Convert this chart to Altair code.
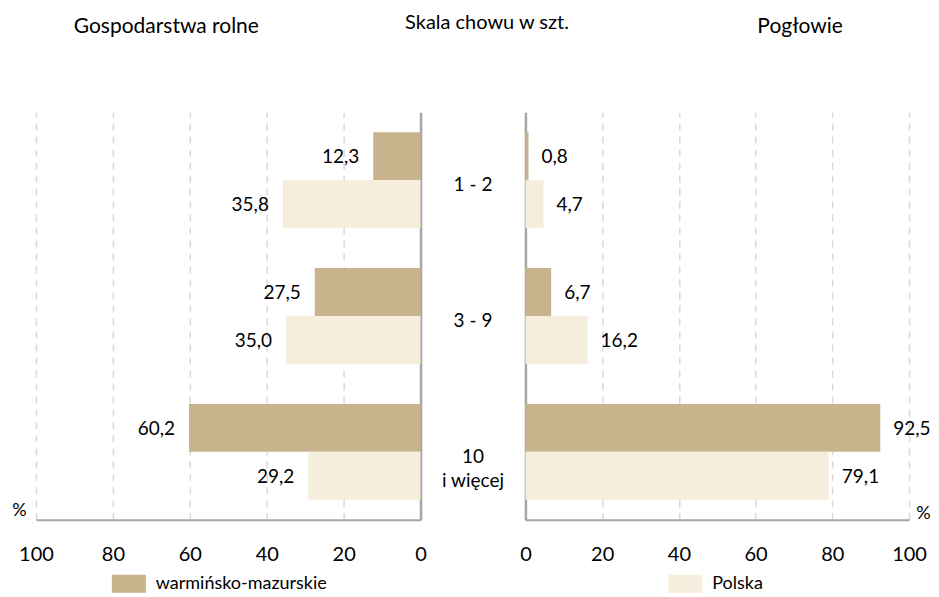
import altair as alt
import pandas as pd

categories = ["1 - 2", "3 - 9", "10\ni więcej"]
series = ["warmińsko-mazurskie", "Polska"]
farms_wm = [12.3, 27.5, 60.2]
farms_pl = [35.8, 35.0, 29.2]
herd_wm = [0.8, 6.7, 92.5]
herd_pl = [4.7, 16.2, 79.1]
tick_values = [0, 20, 40, 60, 80, 100]
colors = ["#C8B38D", "#F5EEDC"]

FONT = "Lato"
FS = 20
LFS = 19
GRAY = "#A6A6A6"


def frame(wm, pl):
    rows = []
    for c, a, b in zip(categories, wm, pl):
        rows.append({"cat": c, "series": series[0], "value": a})
        rows.append({"cat": c, "series": series[1], "value": b})
    df = pd.DataFrame(rows)
    df["label"] = df["value"].map(lambda v: f"{v:.1f}".replace(".", ","))
    return df


y_scale = alt.Scale(domain=categories, paddingInner=0.294, paddingOuter=0.147)
off_enc = alt.YOffset("series:N", sort=series,
                      scale=alt.Scale(domain=series, paddingInner=0, paddingOuter=0))


def panel(df, reverse, y_orient, legend_value, legend_x, title_text, title_dx, pct_x, pct_y, width):
    x_axis = alt.Axis(values=tick_values, grid=True, gridDash=[7, 6], gridColor="#D9D9D9",
                      gridWidth=1.5, ticks=False, tickSize=0, labelPadding=25,
                      labelFlush=False, labelOverlap=False,
                      labelFont=FONT, labelFontSize=FS, labelColor="black",
                      domainColor=GRAY, domainWidth=2,
                      title="%", titleX=pct_x, titleY=pct_y, titleAlign="center",
                      titleBaseline="middle", titleFont=FONT, titleFontSize=18,
                      titleFontWeight="normal", titleColor="black")
    x = alt.X("value:Q", scale=alt.Scale(domain=[0, 100], reverse=reverse, nice=False), axis=x_axis)
    y = alt.Y("cat:N", sort=categories, scale=y_scale,
              axis=alt.Axis(orient=y_orient, labels=False, ticks=False, title=None,
                            domainColor=GRAY, domainWidth=2.5, grid=False))
    color = alt.Color("series:N", scale=alt.Scale(domain=series, range=colors),
                      legend=alt.Legend(values=[legend_value], orient="none",
                                        legendX=legend_x, legendY=455, title=None,
                                        symbolType="M-1,-0.53H1V0.53H-1Z", symbolSize=1156,
                                        symbolStrokeWidth=0, labelFont=FONT, labelFontSize=18,
                                        labelLimit=400, labelOffset=10, labelColor="black"))
    base = alt.Chart(df)
    bars = base.mark_bar().encode(x=x, y=y, yOffset=off_enc, color=color)
    labels = base.mark_text(align="right" if reverse else "left", dx=-14 if reverse else 13,
                            baseline="middle", dy=1, font=FONT, fontSize=LFS, color="black").encode(
        x=x, y=y, yOffset=off_enc, text="label:N")
    return (bars + labels).properties(
        width=width, height=408,
        title=alt.TitleParams(title_text, anchor="middle", dx=title_dx, offset=54,
                              baseline="bottom", font=FONT, fontSize=21,
                              fontWeight="normal", color="black"))


left = panel(frame(farms_wm, farms_pl), True, "right", series[0], 76,
             "Gospodarstwa rolne", -62, -17, -9, 385)
right = panel(frame(herd_wm, herd_pl), False, "left", series[1], 143,
              "Pogłowie", 83, 398, -6, 384)

mid = alt.Chart(pd.DataFrame({"cat": categories})).mark_text(
    font=FONT, fontSize=19, lineBreak="\n", lineHeight=24, baseline="middle", align="center",
    dy=5, color="black"
).encode(
    y=alt.Y("cat:N", sort=categories, scale=y_scale, axis=None),
    text="cat:N",
).properties(width=105, height=408,
             title=alt.TitleParams("Skala chowu w szt.", anchor="middle", dx=14, offset=59,
                                   baseline="bottom", font=FONT, fontSize=20,
                                   fontWeight="normal", color="black"))

chart = alt.hconcat(left, mid, right, spacing=0, bounds="flush").resolve_scale(
    color="independent"
).configure_view(stroke=None).properties(
    padding={"left": 3, "top": 5, "right": 0, "bottom": 0}
)

chart.save("out.html", embed_options={"renderer": "svg", "actions": False})
